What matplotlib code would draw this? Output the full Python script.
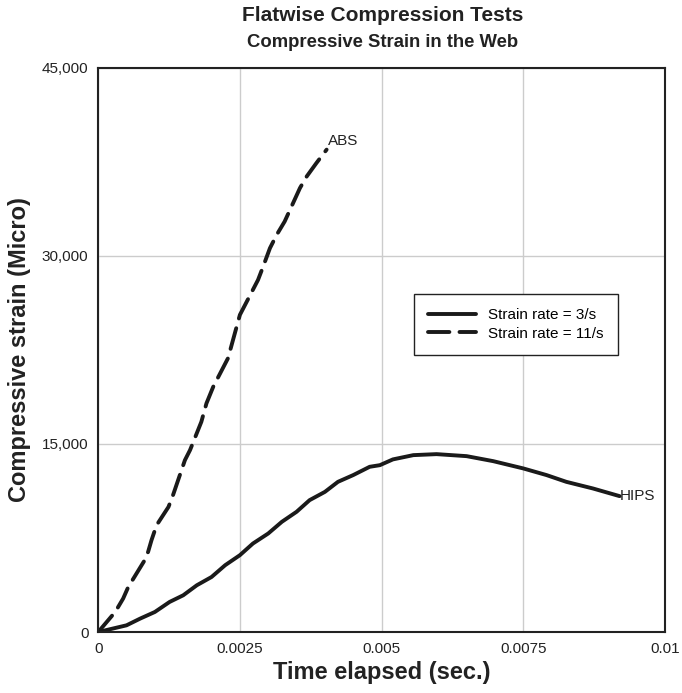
"""Flatwise compression tests: compressive strain in the web vs time."""

import matplotlib

matplotlib.use("Agg")
import matplotlib.pyplot as plt
from matplotlib.ticker import FuncFormatter

plt.rcParams["font.family"] = ["Liberation Sans", "DejaVu Sans"]

# HIPS, strain rate = 3/s (solid)
hips_time = [0.0, 0.0005, 0.00074, 0.001, 0.00126, 0.0015, 0.00174, 0.002, 0.00224,
             0.0025, 0.00273, 0.003, 0.00324, 0.0035, 0.00373, 0.004, 0.00423, 0.0045,
             0.00479, 0.00497, 0.0052, 0.00556, 0.00597, 0.0065, 0.00697, 0.0075,
             0.00791, 0.00826, 0.00873, 0.0092]
hips_strain = [0, 535, 1070, 1600, 2400, 2930, 3730, 4390, 5330,
               6130, 7060, 7860, 8790, 9590, 10520, 11180, 11980, 12520,
               13180, 13310, 13770, 14110, 14190, 14030, 13630, 13050,
               12520, 11980, 11450, 10840]

# ABS, strain rate = 11/s (dashed)
abs_time = [0.0, 0.0003, 0.00044, 0.00053, 0.00082, 0.00088, 0.00094, 0.00103,
            0.00124, 0.00132, 0.00153, 0.00162, 0.00182, 0.00191, 0.00203, 0.00229,
            0.0025, 0.00282, 0.00291, 0.00303, 0.00315, 0.00329, 0.00356, 0.00368,
            0.00385, 0.00403]
abs_strain = [0, 1600, 2670, 3590, 5730, 6390, 7320, 8520,
              9980, 10920, 13710, 14510, 16770, 18240, 19570, 21840,
              25300, 28090, 29150, 30620, 31690, 32750, 35420, 36350,
              37410, 38480]

x_ticks = [0, 0.0025, 0.005, 0.0075, 0.01]
x_tick_labels = ["0", "0.0025", "0.005", "0.0075", "0.01"]
y_ticks = [0, 15000, 30000, 45000]

fig = plt.figure(figsize=(6.82, 6.93), dpi=100)
ax = fig.add_axes([0.144, 0.088, 0.831, 0.814])

line_color = "#1a1a1a"
text_color = "#222222"
ax.plot(hips_time, hips_strain, color=line_color, lw=2.8, solid_capstyle="round",
        solid_joinstyle="round", label="Strain rate = 3/s")
ax.plot(abs_time, abs_strain, color=line_color, lw=2.8, dashes=(5.5, 2.6),
        dash_capstyle="round", label="Strain rate = 11/s")

ax.text(hips_time[-1] + 0.00001, hips_strain[-1], "HIPS", fontsize=11,
        va="center", ha="left", color=text_color)
ax.text(abs_time[-1] + 0.00003, abs_strain[-1] + 650, "ABS", fontsize=11,
        va="center", ha="left", color=text_color)

ax.set_xlim(0, 0.01)
ax.set_ylim(0, 45000)
ax.set_xticks(x_ticks)
ax.set_xticklabels(x_tick_labels)
ax.set_yticks(y_ticks)
ax.yaxis.set_major_formatter(FuncFormatter(lambda v, _: f"{int(v):,}"))
ax.tick_params(length=0, labelsize=11, pad=7, colors=text_color)
ax.grid(True, color="#cccccc", lw=1.0)
ax.set_axisbelow(True)
for spine in ax.spines.values():
    spine.set_color(text_color)
    spine.set_linewidth(1.5)

ax.set_xlabel("Time elapsed (sec.)", fontsize=17, fontweight="bold", labelpad=4,
              color=text_color)
ax.set_ylabel("Compressive strain (Micro)", fontsize=17, fontweight="bold", labelpad=8,
              color=text_color)

fig.text(0.561, 0.977, "Flatwise Compression Tests", ha="center", va="center",
         fontsize=15, fontweight="bold", color=text_color)
fig.text(0.561, 0.939, "Compressive Strain in the Web", ha="center", va="center",
         fontsize=13.3, fontweight="bold", color=text_color)

leg = ax.legend(loc="upper left", bbox_to_anchor=(0.557, 0.6), fontsize=11,
                frameon=True, fancybox=False, handlelength=3.1, borderpad=0.95,
                labelspacing=0.3, handletextpad=0.8, borderaxespad=0)
leg.get_frame().set_edgecolor(text_color)
leg.get_frame().set_linewidth(1.0)
leg.get_frame().set_alpha(1.0)

fig.savefig("out.png", dpi=100)
